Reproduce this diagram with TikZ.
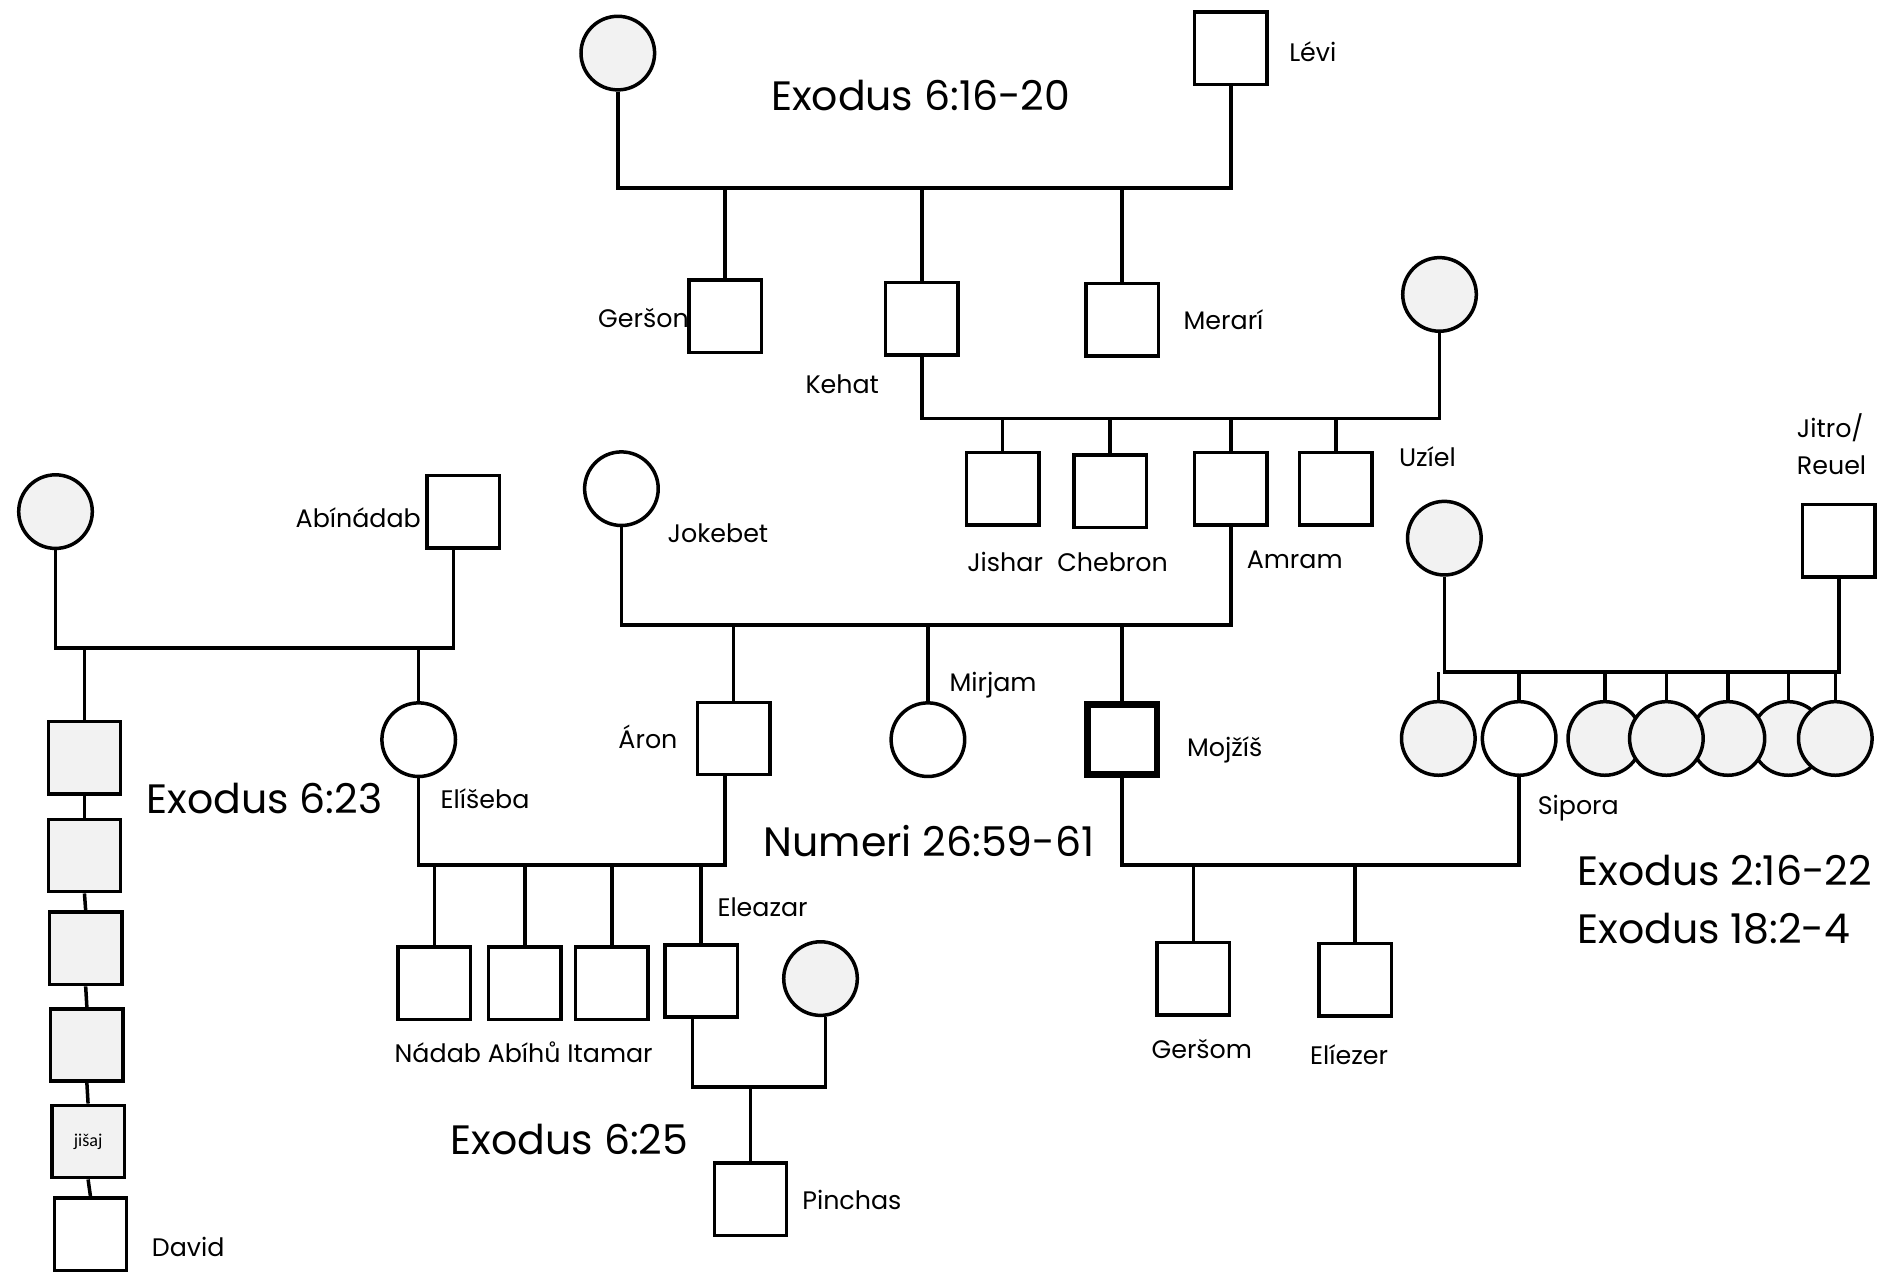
\documentclass[tikz,border=0pt]{standalone}
\usepackage{fontspec}
\setmainfont{Poppins}
\newfontfamily\smallfont{Carlito}
\definecolor{lightfill}{HTML}{F2F2F2}
\begin{document}
\begin{tikzpicture}[x=1pt,y=-1pt,
  ln/.style={line width=2.9pt},
  male/.style={draw, line width=2.9pt, rectangle, minimum size=60pt, inner sep=0pt, fill=white},
  female/.style={draw, line width=2.9pt, circle, minimum size=61pt, inner sep=0pt, fill=white},
  shaded/.style={fill=lightfill},
  lbl/.style={font=\fontsize{21}{25}\selectfont, inner sep=0pt, text height=14.7pt, text depth=0pt},
  ttl/.style={font=\fontsize{34}{40}\selectfont, inner sep=0pt, text height=23.8pt, text depth=0pt}]
\useasboundingbox (0,0) rectangle (1568,1057);

% ---- generation of Levi
\node[female,shaded] (levimom) at (512,44) {};
\node[male] (levi) at (1020,40) {};
\node[lbl] (levil) at (1088,44) {Lévi};
\node[ttl] (t1) at (763,80) {Exodus 6:16-20};
\coordinate (bar1) at (0,156);
\draw[ln] (levimom.south) -- (levimom.south |- bar1) -- (levi.south |- bar1) -- (levi.south);

\node[male] (gerson) at (601,262) {};
\node[male] (kehat) at (764,264) {};
\node[male] (merari) at (930,265) {};
\foreach \n in {gerson,kehat,merari} \draw[ln] (\n.north) -- (\n.north |- bar1);
\node[lbl,anchor=east] (gersonl) at (571,264) {Geršon};
\node[lbl] (kehatl) at (698,319) {Kehat};
\node[lbl] (meraril) at (1014,266) {Merarí};

% ---- Kehat family
\node[female,shaded] (kwife) at (1193,244) {};
\coordinate (bar2) at (0,347);
\draw[ln] (kehat.south) -- (kehat.south |- bar2) -- (kwife.south |- bar2) -- (kwife.south);
\node[male] (jishar) at (831,405) {};
\node[male] (chebron) at (920,407) {};
\node[male] (amram) at (1020,405) {};
\node[male] (uziel) at (1107,405) {};
\foreach \n in {jishar,chebron,amram,uziel} \draw[ln] (\n.north) -- (\n.north |- bar2);
\node[lbl] (jisharl) at (833,466) {Jishar};
\node[lbl] (chebronl) at (922,466) {Chebron};
\node[lbl] (amraml) at (1073,464) {Amram};
\node[lbl] (uziell) at (1183,379) {Uzíel};

% ---- Amram family
\node[female] (jokebet) at (515,405) {};
\node[lbl] (jokebetl) at (595,442) {Jokebet};
\coordinate (bar3) at (0,518);
\draw[ln] (jokebet.south) -- (jokebet.south |- bar3) -- (amram.south |- bar3) -- (amram.south);
\node[male] (aron) at (608,612) {};
\node[female] (mirjam) at (769,613) {};
\node[male, line width=5.5pt, minimum size=58pt] (mojzis) at (930,613) {};
\foreach \n in {aron,mirjam,mojzis} \draw[ln] (\n.north) -- (\n.north |- bar3);
\node[lbl] (aronl) at (537,613) {Áron};
\node[lbl] (mirjaml) at (823,566) {Mirjam};
\node[lbl] (mojzisl) at (1015,620) {Mojžíš};
\node[ttl] (t2) at (770,698) {Numeri 26:59-61};

% ---- Abinadab family
\node[female,shaded] (abwife) at (46,424) {};
\node[male] (abinadab) at (384,424) {};
\node[lbl,anchor=east] (abinadabl) at (349,430) {Abínádab};
\coordinate (bar4) at (0,537);
\draw[ln] (abwife.south) -- (abwife.south |- bar4) -- ([xshift=-8pt]abinadab.south |- bar4) -- ([xshift=-8pt]abinadab.south);
\node[female] (eliseba) at (347,613) {};
\node[lbl] (elisebal) at (402,663) {Elíšeba};
\node[male,shaded] (g1) at (70,628) {};
\node[male,shaded] (g2) at (70,709) {};
\node[male,shaded] (g3) at (71,786) {};
\node[male,shaded] (g4) at (72,866) {};
\node[male,shaded,font=\smallfont\fontsize{15}{18}\selectfont] (jisaj) at (73,946) {jišaj};
\node[male] (david) at (75,1023) {};
\node[lbl] (davidl) at (156,1034) {David};
\draw[ln] (g1.north) -- (g1.north |- bar4);
\draw[ln] (eliseba.north) -- (eliseba.north |- bar4);
\draw[ln] (g1.south) -- (g2.north);
\draw[ln] (g2.south) -- (g3.north);
\draw[ln] (g3.south) -- (g4.north);
\draw[ln] (g4.south) -- (jisaj.north);
\draw[ln] (jisaj.south) -- (david.north);
\node[ttl] (t3) at (219,662) {Exodus 6:23};

% ---- Aron family
\coordinate (bar5) at (0,717);
\draw[ln] (eliseba.south) -- (eliseba.south |- bar5) -- ([xshift=-7pt]aron.south |- bar5) -- ([xshift=-7pt]aron.south);
\node[male] (nadab) at (360,815) {};
\node[male] (abihu) at (435,815) {};
\node[male] (itamar) at (507,815) {};
\node[male] (eleazar) at (581,813) {};
\foreach \n in {nadab,abihu,itamar,eleazar} \draw[ln] (\n.north) -- (\n.north |- bar5);
\node[lbl] (nadabl) at (434,873) {Nádab Abíhů Itamar};
\node[lbl] (eleazarl) at (632,752) {Eleazar};

% ---- Eleazar family
\node[female,shaded] (elwife) at (680,811) {};
\coordinate (bar6) at (0,901);
\draw[ln] ([xshift=-7pt]eleazar.south) -- ([xshift=-7pt]eleazar.south |- bar6) -- ([xshift=4pt]elwife.south |- bar6) -- ([xshift=4pt]elwife.south);
\node[male] (pinchas) at (622,994) {};
\draw[ln] (pinchas.north) -- (pinchas.north |- bar6);
\node[lbl] (pinchasl) at (706,995) {Pinchas};
\node[ttl] (t4) at (472,945) {Exodus 6:25};

% ---- Jitro family
\node[female,shaded] (jwife) at (1197,446) {};
\node[male] (jitro) at (1524,448) {};
\node[lbl,anchor=west] (jitrol) at (1489,355) {Jitro/};
\node[lbl,anchor=west] (reuell) at (1489,386) {Reuel};
\coordinate (bar7) at (0,557);
\draw[ln] (jwife.south) -- (jwife.south |- bar7) -- (jitro.south |- bar7) -- (jitro.south);
\node[female,shaded] (d3) at (1330,612) {};
\node[female,shaded] (d6) at (1482,612) {};
\node[female,shaded] (d5) at (1432,612) {};
\node[female,shaded] (d4) at (1381,612) {};
\node[female,shaded] (d7) at (1521,612) {};
\node[female,shaded] (d1) at (1192,612) {};
\node[female] (sipora) at (1259,612) {};
\foreach \n in {d1,sipora,d3,d4,d5,d6,d7} \draw[ln] (\n.north) -- (\n.north |- bar7);
\node[lbl] (siporal) at (1308,668) {Sipora};
\node[ttl,anchor=west] (t5) at (1307,722) {Exodus 2:16-22};
\node[ttl,anchor=west] (t6) at (1307,770) {Exodus 18:2-4};

% ---- Moses family
\coordinate (bar8) at (0,717);
\draw[ln] (mojzis.south) -- (mojzis.south |- bar8) -- (sipora.south |- bar8) -- (sipora.south);
\node[male] (gersom) at (989,811) {};
\node[male] (eliezer) at (1123,812) {};
\foreach \n in {gersom,eliezer} \draw[ln] (\n.north) -- (\n.north |- bar8);
\node[lbl] (gersoml) at (996,870) {Geršom};
\node[lbl] (eliezerl) at (1118,875) {Elíezer};
\end{tikzpicture}
\end{document}
